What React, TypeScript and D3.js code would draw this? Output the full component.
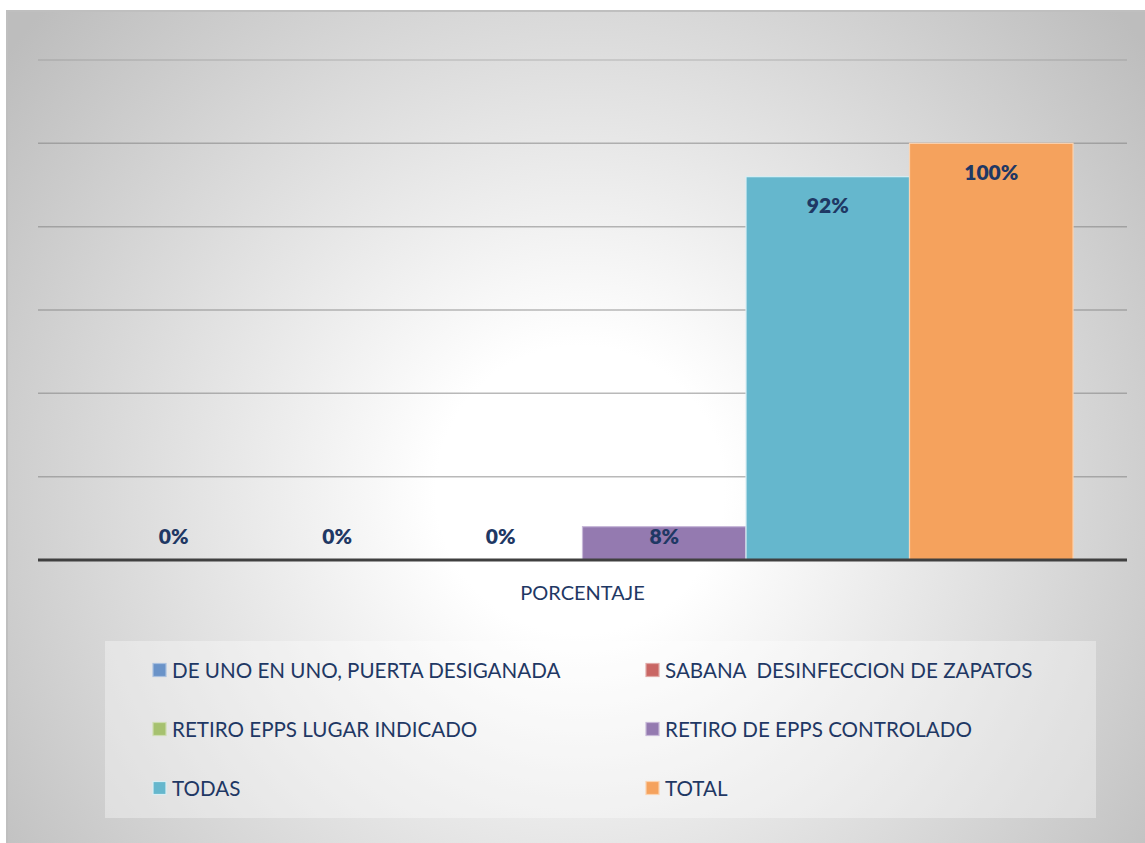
import React from "react";
import * as d3 from "d3";

const category = "PORCENTAJE";
const seriesNames = [
  "DE UNO EN UNO, PUERTA DESIGANADA",
  "SABANA  DESINFECCION DE ZAPATOS",
  "RETIRO EPPS LUGAR INDICADO",
  "RETIRO DE EPPS CONTROLADO",
  "TODAS",
  "TOTAL",
];
const seriesValues = [0, 0, 0, 0.08, 0.92, 1.0];
const seriesColors = ["#6a93c8", "#c96664", "#a6c16f", "#947ab0", "#65b7cd", "#f5a25d"];
const seriesStrokes = ["#a9c0df", "#e0a8a6", "#cddcb0", "#c7b8d8", "#d8eef4", "#fbd3b0"];
const yTicks = [0, 0.2, 0.4, 0.6, 0.8, 1.0, 1.2];

const W = 1145;
const H = 843;
const plot = { left: 38, right: 1127, top: 60, bottom: 560 };
const FONT = "Lato, 'Open Sans', sans-serif";
const NAVY = "#1f3864";

export default function App() {
  const y = d3.scaleLinear().domain([0, 1.2]).range([plot.bottom, plot.top]);
  const xCat = d3.scaleBand<string>().domain([category]).range([plot.left, plot.right]).padding(0);
  const xSer = d3
    .scaleBand<string>()
    .domain(seriesNames)
    .range([xCat(category)!, xCat(category)! + xCat.bandwidth()])
    .paddingInner(0)
    .paddingOuter(0.33);
  const fmt = d3.format(".0%");

  const legendCols = [153, 646];
  const legendRows = [670, 729, 788];

  return (
    <svg
      width={W}
      height={H}
      style={{ position: "absolute", left: 0, top: 0, display: "block" }}
    >
      <defs>
        <radialGradient id="bg" cx="580" cy="490" r="720" gradientUnits="userSpaceOnUse">
          <stop offset="0" stopColor="#ffffff" />
          <stop offset="0.2" stopColor="#ffffff" />
          <stop offset="1" stopColor="#bdbdbd" />
        </radialGradient>
      </defs>
      <rect x={0} y={0} width={W} height={H} fill="#ffffff" />
      <rect x={7} y={11} width={1200} height={900} fill="url(#bg)" stroke="#bfbfbf" strokeWidth={2} />

      {yTicks.slice(1).map((t) => (
        <line
          key={t}
          x1={plot.left}
          x2={plot.right}
          y1={y(t)}
          y2={y(t)}
          stroke="#7f7f7f"
          strokeOpacity={t > 1.1 ? 0.3 : 0.55}
          strokeWidth={1.5}
        />
      ))}

      {seriesNames.map((s, i) => {
        const v = seriesValues[i];
        if (v <= 0) return null;
        return (
          <rect
            key={s}
            x={xSer(s)!}
            y={y(v)}
            width={xSer.bandwidth()}
            height={y(0) - y(v)}
            fill={seriesColors[i]}
            stroke={seriesStrokes[i]}
            strokeWidth={1.2}
          />
        );
      })}

      <line x1={plot.left} x2={plot.right} y1={y(0)} y2={y(0)} stroke="#404040" strokeWidth={3} />

      {seriesNames.map((s, i) => {
        const v = seriesValues[i];
        const cy = Math.min(y(v) + 28, y(0) - 25);
        return (
          <text
            key={s}
            x={xSer(s)! + xSer.bandwidth() / 2}
            y={cy}
            textAnchor="middle"
            dominantBaseline="central"
            fontFamily={FONT}
            fontWeight={800}
            fontSize={21}
            fill={NAVY}
          >
            {fmt(v)}
          </text>
        );
      })}

      <text
        x={xCat(category)! + xCat.bandwidth() / 2}
        y={592}
        textAnchor="middle"
        dominantBaseline="central"
        fontFamily={FONT}
        fontSize={20}
        fill={NAVY}
      >
        {category}
      </text>

      <rect x={105} y={641} width={991} height={177} fill="#ffffff" fillOpacity={0.35} />
      {seriesNames.map((s, i) => {
        const cx = legendCols[i % 2];
        const cy = legendRows[Math.floor(i / 2)];
        return (
          <g key={s}>
            <rect
              x={cx}
              y={cy - 6.5}
              width={13}
              height={13}
              fill={seriesColors[i]}
              stroke={seriesStrokes[i]}
              strokeWidth={1.2}
            />
            <text
              x={cx + 19}
              y={cy}
              dominantBaseline="central"
              fontFamily={FONT}
              fontSize={20.6}
              fill={NAVY}
              style={{ whiteSpace: "pre" }}
            >
              {s}
            </text>
          </g>
        );
      })}
    </svg>
  );
}
